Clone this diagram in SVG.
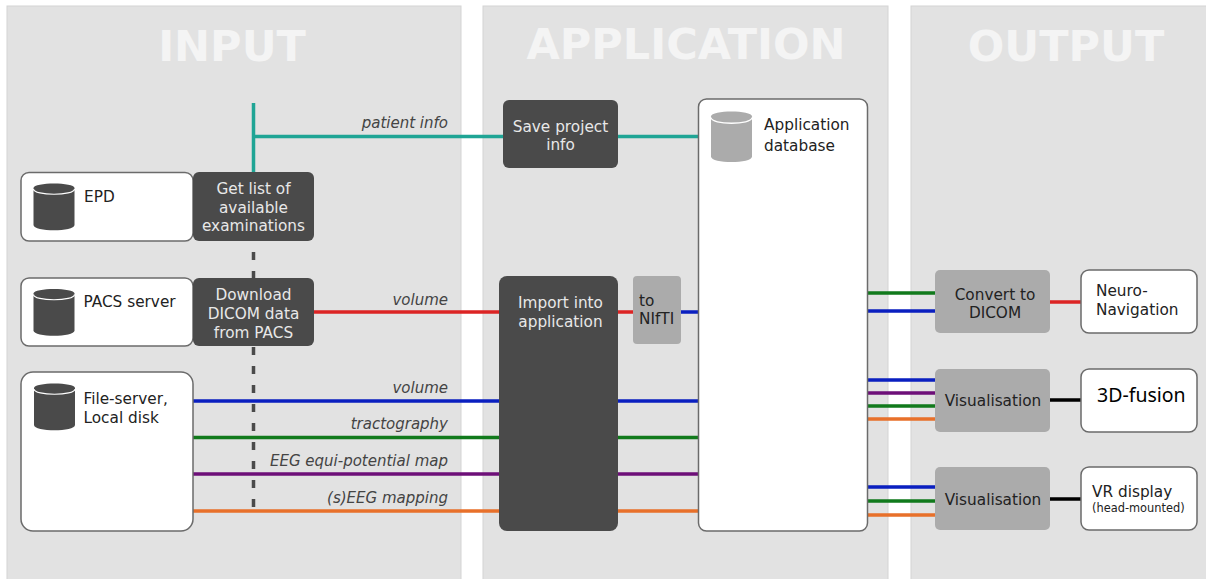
<svg xmlns="http://www.w3.org/2000/svg" width="1206" height="579" viewBox="0 0 1206 579">
<style>
text{font-family:"DejaVu Sans",sans-serif;font-size:15.300px;fill:#222}
.title{font-weight:700;font-size:43px;fill:#f4f4f4;text-anchor:middle}
.panel{fill:#e2e2e2;stroke:#d4d4d4;stroke-width:1}
.white{fill:#fff;stroke:#6b6b6b;stroke-width:1.5}
.dark{fill:#4a4a4a}
.mid{fill:#ababab}
.dark text,text.lt{fill:#e8e8e8;text-anchor:middle}
.c{text-anchor:middle}
.lab{font-style:italic;text-anchor:end;fill:#444;font-size:15px}
.w{fill:none;stroke-width:3.5}
.teal{stroke:#1fa595}.red{stroke:#dc2424}.blue{stroke:#0a1fc0}.green{stroke:#117a1c}.purple{stroke:#6d0f78}.orange{stroke:#e8702a}.black{stroke:#000}
.dbtop{fill:none;stroke:#fff;stroke-width:1.2}
</style>
<defs>
<g id="db"><path d="M0 6C0 0 41 0 41 6V43C41 50 0 50 0 43Z"/><path class="dbtop" d="M0 7C0 14 41 14 41 7"/></g>
</defs>
<rect x="0" y="0" width="1206" height="579" fill="#fff"/>
<g id="panels">
<rect class="panel" x="7" y="6" width="454" height="574"/>
<rect class="panel" x="483" y="6" width="405" height="574"/>
<rect class="panel" x="911" y="6" width="296" height="574"/>
<text class="title" x="232" y="61">INPUT</text>
<text class="title" x="686" y="59">APPLICATION</text>
<text class="title" x="1066" y="61">OUTPUT</text>
</g>
<g id="connectors">
<path class="w teal" d="M253.500 103V172M253 136.500H503M618 136.500H698"/>
<path fill="none" stroke="#4a4a4a" stroke-width="3.500" stroke-dasharray="8 11" d="M253.500 233V507"/>
<path class="w red" d="M314 312H499M618 312H633M1050 302H1081"/>
<path class="w blue" d="M681 312H698M193 401H499M618 401H698M867 311H935M867 380H935M867 487H935"/>
<path class="w green" d="M193 437.500H499M618 437.500H698M867 293H935M867 406H935M867 501H935"/>
<path class="w purple" d="M193 474H499M618 474H698M867 393H935"/>
<path class="w orange" d="M193 511H499M618 511H698M867 419H935M867 515H935"/>
<path class="w black" d="M1050 400H1081M1050 499H1081"/>
<text class="lab" x="448" y="128">patient info</text>
<text class="lab" x="448" y="305">volume</text>
<text class="lab" x="448" y="393">volume</text>
<text class="lab" x="448" y="429">tractography</text>
<text class="lab" x="448" y="466">EEG equi-potential map</text>
<text class="lab" x="448" y="503">(s)EEG mapping</text>
</g>
<g id="epd"><rect class="white" x="21" y="172.500" width="172" height="68.500" rx="8"/><use href="#db" x="33.500" y="182" fill="#4a4a4a"/><text x="84" y="202">EPD</text></g>
<g id="get-list" class="dark"><rect x="193" y="172" width="121" height="69" rx="6"/><text x="253.500" y="194">Get list of</text><text x="253.500" y="212.500">available</text><text x="253.500" y="231">examinations</text></g>
<g id="pacs"><rect class="white" x="21" y="278" width="172" height="68" rx="8"/><use href="#db" x="33.500" y="287.500" fill="#4a4a4a"/><text x="83.500" y="307">PACS server</text></g>
<g id="download" class="dark"><rect x="193" y="278" width="121" height="68" rx="6"/><text x="253.500" y="300">Download</text><text x="253.500" y="319">DICOM data</text><text x="253.500" y="338">from PACS</text></g>
<g id="file-server"><rect class="white" x="21" y="372" width="172" height="159" rx="12"/><use href="#db" x="34" y="382" fill="#4a4a4a"/><text x="83.500" y="404">File-server,</text><text x="83.500" y="423">Local disk</text></g>
<g id="save" class="dark"><rect x="503" y="100" width="115" height="68" rx="6"/><text x="560.500" y="132">Save project</text><text x="560.500" y="150">info</text></g>
<g id="import" class="dark"><rect x="499" y="276" width="119" height="255" rx="8"/><text x="560.500" y="308">Import into</text><text x="560.500" y="327">application</text></g>
<g id="nifti"><rect class="mid" x="633" y="276" width="48" height="68" rx="4"/><text x="639" y="306">to</text><text x="639" y="324">NIfTI</text></g>
<g id="app-db"><rect class="white" x="698.500" y="99" width="169" height="432" rx="8"/><use href="#db" transform="translate(711 110) scale(1 1.08)" fill="#ababab"/><text x="764" y="130" fill="#111">Application</text><text x="764" y="151">database</text></g>
<g id="convert"><rect class="mid" x="935" y="270" width="115" height="63" rx="5"/><text class="c" x="995" y="300">Convert to</text><text class="c" x="995" y="318">DICOM</text></g>
<g id="vis1"><rect class="mid" x="935" y="369" width="115" height="63" rx="5"/><text class="c" x="993" y="406">Visualisation</text></g>
<g id="vis2"><rect class="mid" x="935" y="467" width="115" height="63" rx="5"/><text class="c" x="993" y="505">Visualisation</text></g>
<g id="neuro"><rect class="white" x="1081" y="270" width="116" height="63" rx="8"/><text x="1096" y="296">Neuro-</text><text x="1096" y="315">Navigation</text></g>
<g id="fusion"><rect class="white" x="1081" y="369" width="116" height="63" rx="8"/><text x="1097" y="402" style="font-family:'Noto Sans',sans-serif;font-size:19.500px;fill:#000">3D-fusion</text></g>
<g id="vr"><rect class="white" x="1081" y="467" width="116" height="63" rx="8"/><text x="1092" y="497">VR display</text><text x="1092" y="512" style="font-size:11.400px">(head-mounted)</text></g>
</svg>
